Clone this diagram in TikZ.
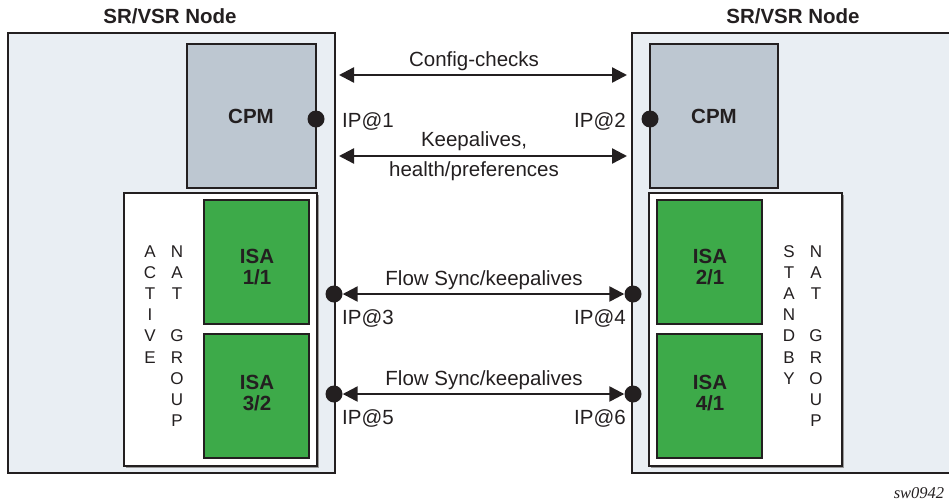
\documentclass[tikz,border=0pt]{standalone}
\usepackage{fontspec}
\setmainfont{Liberation Sans}
\newfontfamily\serifit{Liberation Serif}
\usetikzlibrary{arrows.meta}
\definecolor{nodebg}{HTML}{E9EEF3}
\definecolor{cpmfill}{HTML}{BDC7D1}
\definecolor{isagreen}{HTML}{3DAA49}
\definecolor{edge}{HTML}{231F20}
\definecolor{shadowgray}{HTML}{9A9A9A}
\tikzset{
  outerbox/.style={draw=edge, line width=2.6pt, fill=nodebg},
  cpmbox/.style={draw=edge, line width=2.6pt, fill=cpmfill},
  natbox/.style={draw=edge, line width=2pt, fill=white},
  isabox/.style={draw=edge, line width=2.6pt, fill=isagreen},
  dot/.style={circle, fill=edge, inner sep=0pt, minimum size=17pt},
  arr/.style={line width=2.4pt, draw=edge, {Triangle[length=15pt,width=15pt]}-{Triangle[length=15pt,width=15pt]}},
  lbl/.style={font=\fontsize{20.5}{24}\selectfont, text=edge, inner sep=0pt},
  boldlbl/.style={font=\fontsize{20.5}{21.5}\selectfont\bfseries, text=edge, inner sep=0pt, align=center},
  vlet/.style={font=\fontsize{17}{20}\selectfont, text=edge, inner sep=0pt, anchor=base},
}
\begin{document}
\begin{tikzpicture}[x=1pt,y=-1pt]
\useasboundingbox (0,0) rectangle (949,501);
\clip (0,0) rectangle (949,501);
% titles
\node[boldlbl] (titleL) at (170,16) {SR/VSR Node};
\node[boldlbl] (titleR) at (793,16) {SR/VSR Node};
% outer boxes
\draw[outerbox] (8,33) rectangle (335,473);
\draw[outerbox] (632,33) rectangle (960,473);
% CPMs
\draw[cpmbox] (187,44) rectangle (316,188);
\node[boldlbl] (cpmL) at (251,116) {CPM};
\draw[cpmbox] (650,44) rectangle (778,188);
\node[boldlbl] (cpmR) at (714,116) {CPM};
% NAT group boxes
\fill[shadowgray] (126,195) rectangle (319,468);
\draw[natbox] (124,193) rectangle (317,466);
\fill[shadowgray] (651,195) rectangle (844,468);
\draw[natbox] (649,193) rectangle (842,466);
% ISA cards
\draw[isabox] (204,200) rectangle (309,324);
\node[boldlbl] (isa11) at (257,267) {ISA\\1/1};
\draw[isabox] (204,334) rectangle (309,458);
\node[boldlbl] (isa32) at (257,393) {ISA\\3/2};
\draw[isabox] (657,200) rectangle (762,324);
\node[boldlbl] (isa21) at (710,267) {ISA\\2/1};
\draw[isabox] (657,334) rectangle (762,458);
\node[boldlbl] (isa41) at (710,393) {ISA\\4/1};
% vertical letters
\foreach \c [count=\i from 0] in {A,C,T,I,V,E}
  \node[vlet] (act\i) at (150,{257+21.2*\i}) {\c};
\foreach \c [count=\i from 0] in {S,T,A,N,D,B,Y}
  \node[vlet] (stb\i) at (789,{257+21.2*\i}) {\c};
\foreach \c/\k in {N/0,A/1,T/2,G/4,R/5,O/6,U/7,P/8} {
  \node[vlet] (natL\k) at (177,{257+21.2*\k}) {\c};
  \node[vlet] (natR\k) at (816,{257+21.2*\k}) {\c};
}
% dots
\node[dot] (ip1) at (316,119) {};
\node[dot] (ip2) at (650,119) {};
\node[dot] (ip3) at (334,294) {};
\node[dot] (ip4) at (633,294) {};
\node[dot] (ip5) at (334,394) {};
\node[dot] (ip6) at (633,394) {};
% CPM arrows
\coordinate (cfgL) at (339,75);
\coordinate (cfgR) at (627,75);
\coordinate (kaL) at (339,156);
\coordinate (kaR) at (627,156);
\draw[arr] (cfgL) -- (cfgR);
\draw[arr] (kaL) -- (kaR);
\node[lbl] (cfgtxt) at (474,61) {Config-checks};
\node[lbl] (katxt1) at (474,141) {Keepalives,};
\node[lbl] (katxt2) at (474,171) {health/preferences};
\node[lbl, anchor=west] (ipl1) at (342,121) {IP@1};
\node[lbl, anchor=east] (ipl2) at (626,121) {IP@2};
% flow sync arrows
\draw[arr] (ip3) -- (ip4);
\draw[arr] (ip5) -- (ip6);
\node[lbl] (fs1) at (484,280) {Flow Sync/keepalives};
\node[lbl] (fs2) at (484,380) {Flow Sync/keepalives};
\node[lbl, anchor=west] (ipl3) at (342,318) {IP@3};
\node[lbl, anchor=east] (ipl4) at (626,318) {IP@4};
\node[lbl, anchor=west] (ipl5) at (342,418) {IP@5};
\node[lbl, anchor=east] (ipl6) at (626,418) {IP@6};
% figure id
\node[font=\fontsize{16.5}{18}\selectfont\serifit\itshape, text=edge, inner sep=0pt] (swid) at (919,493) {sw0942};
\end{tikzpicture}
\end{document}
